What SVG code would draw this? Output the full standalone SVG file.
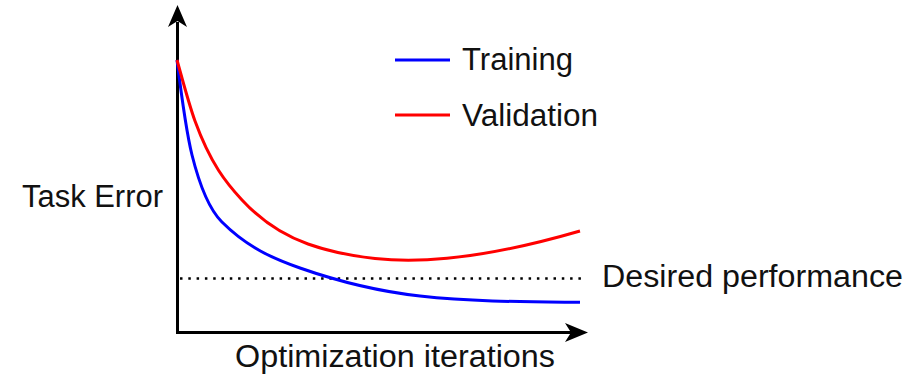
<svg xmlns="http://www.w3.org/2000/svg" width="922" height="375" viewBox="0 0 922 375">
<style>
text{font-family:"Liberation Sans",Arial,sans-serif;font-size:31px;fill:#111}
.axis{stroke:#000;stroke-width:3;fill:none}
.curve{fill:none;stroke-width:3;stroke-linejoin:round}
</style>
<rect width="922" height="375" fill="#fff"/>
<g id="connectors">
<path class="axis" d="M177.5,334 V22"/>
<path d="M177.5,5 L187,27 L177.5,21 L168,27 Z" fill="#000"/>
<path class="axis" d="M176,332.5 H572"/>
<path d="M588,332.5 L565,342 L571,332.5 L565,323 Z" fill="#000"/>
<path d="M180,278.5 H582" stroke="#000" stroke-width="2.5" stroke-dasharray="2.5 5.8" fill="none"/>
</g>
<g id="training-curve">
<path class="curve" stroke="#0000ff" d="M177,60 C182,100 187,135 192,155 C201.9,194.6 211.8,211.8 221.7,221.7 C247.8,247.8 273.9,258.87 300,268 C340,282 380,291.6 420,296 C473.33,301.87 526.67,301.77 580,302.3"/>
</g>
<g id="validation-curve">
<path class="curve" stroke="#ff0000" d="M177,60 C183,81.6 189,104.56 195,121 C210.67,163.93 226.33,183.08 242,200 C264,223.76 286,236.3 308,244 C330.33,251.82 352.67,256.13 375,258.5 C399,261.04 423,260.53 447,258.3 C491.33,254.18 535.67,243.86 580,231"/>
</g>
<g id="legend">
<line x1="395" y1="60" x2="450" y2="60" stroke="#0000ff" stroke-width="3"/>
<text x="462" y="70" textLength="111" lengthAdjust="spacingAndGlyphs">Training</text>
<line x1="395" y1="115" x2="450" y2="115" stroke="#ff0000" stroke-width="3"/>
<text x="462" y="126" textLength="136" lengthAdjust="spacingAndGlyphs">Validation</text>
</g>
<g id="y-label"><text x="22" y="207" textLength="141" lengthAdjust="spacingAndGlyphs">Task Error</text></g>
<g id="x-label"><text x="235" y="367" textLength="320" lengthAdjust="spacingAndGlyphs">Optimization iterations</text></g>
<g id="target-label"><text x="602" y="287" textLength="301" lengthAdjust="spacingAndGlyphs">Desired performance</text></g>
</svg>
